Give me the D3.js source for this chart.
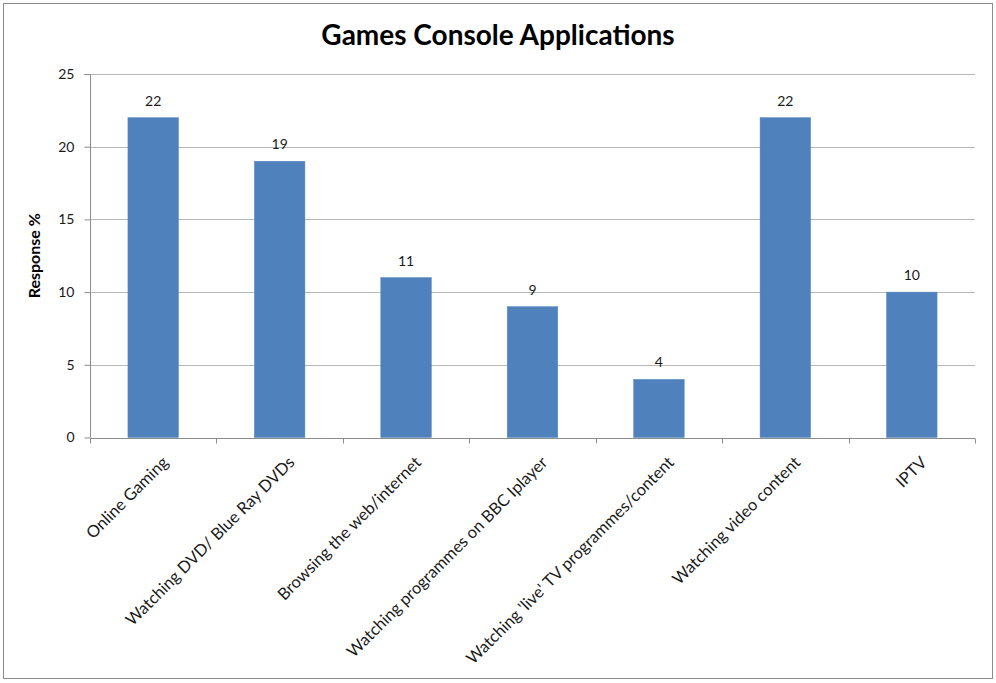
<!DOCTYPE html>
<html><head><meta charset="utf-8">
<script src="https://cdn.jsdelivr.net/npm/d3@7/dist/d3.min.js"></script>
<style>body{margin:0;background:#fff;}svg{display:block;font-family:Lato,"Open Sans",sans-serif;}</style>
</head><body>
<svg id="c" width="996" height="683"></svg>
<script>
const categories = ["Online Gaming","Watching DVD/ Blue Ray DVDs","Browsing the web/internet","Watching programmes on BBC Iplayer","Watching 'live' TV programmes/content","Watching video content","IPTV"];
const values = [22,19,11,9,4,22,10];
const yTicks = [0,5,10,15,20,25];
const title = "Games Console Applications";
const yTitle = "Response %";

const svg = d3.select("#c");
const m = {left:90, right:975, top:74, bottom:437.5};

svg.append("rect").attr("x",3.5).attr("y",3.5).attr("width",989).attr("height",675)
  .attr("fill","#fff").attr("stroke","#8c8c8c").attr("stroke-width",1);

const x = d3.scaleBand().domain(categories).range([m.left,m.right]).paddingInner(0.6).paddingOuter(0.3);
const y = d3.scaleLinear().domain([0,25]).range([m.bottom,m.top]);

svg.append("g").selectAll("line").data(yTicks.filter(d=>d>0)).join("line")
  .attr("x1",m.left).attr("x2",m.right)
  .attr("y1",d=>Math.round(y(d))+0.5).attr("y2",d=>Math.round(y(d))+0.5)
  .attr("stroke","#b8b8b8").attr("stroke-width",1);

svg.append("g").selectAll("rect").data(values).join("rect")
  .attr("x",(d,i)=>x(categories[i])).attr("width",x.bandwidth())
  .attr("y",d=>y(d)).attr("height",d=>y(0)-y(d))
  .attr("fill","#4f81bd").attr("stroke","#5b8ac2").attr("stroke-width",0.5);

svg.append("g").selectAll("text").data(values).join("text")
  .attr("x",(d,i)=>x(categories[i])+x.bandwidth()/2).attr("y",d=>y(d)-12)
  .attr("text-anchor","middle").attr("font-size",14).attr("fill","#1a1a1a").text(d=>d);

const yAxis = d3.axisLeft(y).tickValues(yTicks).tickSize(6).tickPadding(10);
const gy = svg.append("g").attr("transform",`translate(${m.left+0.5},0)`).call(yAxis);
gy.select(".domain").attr("stroke","#8c8c8c").attr("d",`M-6,${y(25)+0.5}H0V${y(0)}`);
gy.selectAll(".tick line").attr("stroke","#8c8c8c");
gy.selectAll(".tick text").attr("font-size",14).attr("fill","#1a1a1a").attr("font-family","Lato");

const gx = svg.append("g").attr("transform",`translate(0,${Math.round(y(0))+0.5})`);
gx.append("line").attr("x1",m.left).attr("x2",m.right).attr("stroke","#8c8c8c");
const bounds = d3.range(categories.length+1).map(i=>m.left + i*(m.right-m.left)/categories.length);
gx.selectAll(".tk").data(bounds).join("line").attr("class","tk")
  .attr("x1",d=>Math.round(d)+0.5).attr("x2",d=>Math.round(d)+0.5).attr("y1",0).attr("y2",5)
  .attr("stroke","#8c8c8c");
gx.selectAll(".lb").data(categories).join("text").attr("class","lb")
  .attr("transform",d=>`translate(${x(d)+x.bandwidth()/2+16},${25}) rotate(-45)`)
  .attr("text-anchor","end").attr("font-size",16.5).attr("fill","#1a1a1a").text(d=>d);

svg.append("text").attr("x",498).attr("y",45).attr("text-anchor","middle")
  .attr("font-size",28).attr("font-weight","bold").attr("fill","#000").text(title);
svg.append("text").attr("transform",`translate(40,${(m.top+m.bottom)/2}) rotate(-90)`)
  .attr("text-anchor","middle").attr("font-size",16).attr("font-weight","bold").attr("fill","#000").text(yTitle);
</script>
</body></html>
